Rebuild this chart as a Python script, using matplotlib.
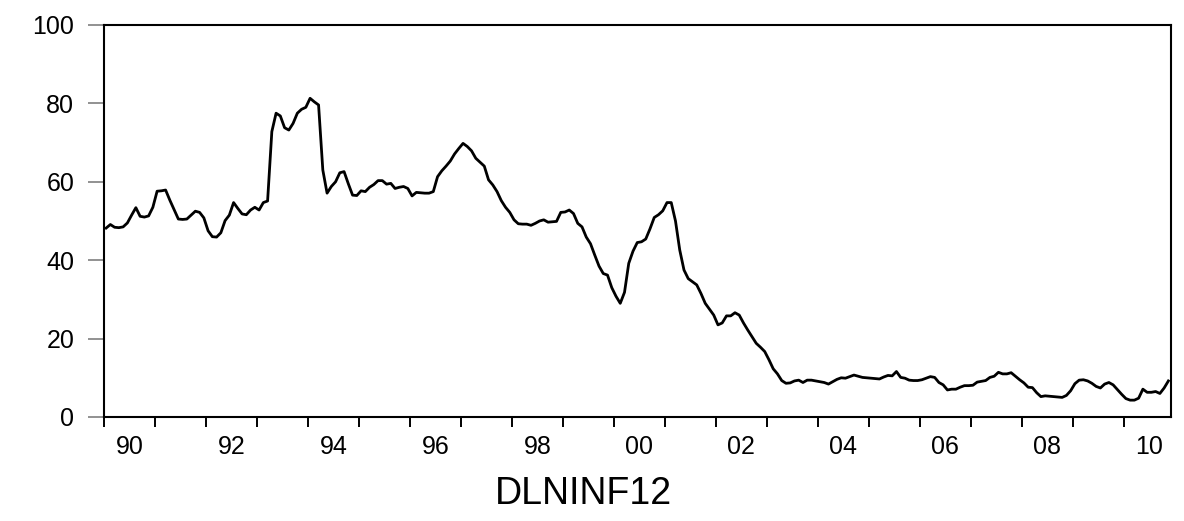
import matplotlib
matplotlib.use("Agg")
import matplotlib.pyplot as plt
from matplotlib.ticker import FixedLocator, NullFormatter, FixedFormatter
import numpy as np

# Monthly series DLNINF12, 1990M01 - 2010M11
start_year = 1990
dlninf12 = [
    # 1990
    48.2, 49.1, 48.4, 48.3, 48.5, 49.5, 51.5, 53.4, 51.2, 51.0, 51.3, 53.5,
    # 1991
    57.6, 57.7, 57.9, 55.3, 52.9, 50.5, 50.4, 50.5, 51.5, 52.5, 52.2, 50.8,
    # 1992
    47.5, 46.0, 45.9, 47.0, 50.1, 51.5, 54.7, 53.2, 51.8, 51.6, 52.8, 53.5,
    # 1993
    52.8, 54.7, 55.1, 72.8, 77.5, 76.8, 73.8, 73.2, 74.9, 77.5, 78.5, 79.0,
    # 1994
    81.3, 80.4, 79.6, 63.0, 57.1, 58.8, 60.0, 62.3, 62.6, 59.5, 56.6, 56.5,
    # 1995
    57.7, 57.5, 58.6, 59.3, 60.3, 60.3, 59.4, 59.6, 58.3, 58.6, 58.8, 58.3,
    # 1996
    56.4, 57.3, 57.2, 57.1, 57.1, 57.5, 61.3, 62.8, 64.0, 65.3, 67.1, 68.5,
    # 1997
    69.8, 69.0, 67.9, 66.0, 65.0, 64.0, 60.5, 59.2, 57.5, 55.2, 53.5, 52.2,
    # 1998
    50.3, 49.3, 49.2, 49.2, 48.9, 49.4, 50.0, 50.3, 49.7, 49.8, 49.9, 52.2,
    # 1999
    52.3, 52.8, 51.9, 49.4, 48.5, 45.9, 44.2, 41.3, 38.5, 36.6, 36.2, 33.0,
    # 2000
    30.8, 29.0, 31.8, 39.2, 42.3, 44.5, 44.7, 45.4, 48.0, 50.9, 51.6, 52.6,
    # 2001
    54.7, 54.7, 50.0, 42.6, 37.5, 35.3, 34.5, 33.7, 31.5, 29.0, 27.5, 26.0,
    # 2002
    23.5, 24.0, 25.8, 25.8, 26.6, 26.0, 24.0, 22.2, 20.5, 18.8, 17.8, 16.7,
    # 2003
    14.6, 12.3, 11.0, 9.3, 8.6, 8.7, 9.2, 9.4, 8.8, 9.4, 9.4, 9.2,
    # 2004
    9.0, 8.8, 8.4, 9.0, 9.6, 10.0, 9.9, 10.3, 10.7, 10.4, 10.1, 10.0,
    # 2005
    9.9, 9.8, 9.7, 10.2, 10.6, 10.5, 11.6, 10.1, 9.9, 9.4, 9.3, 9.3,
    # 2006
    9.5, 9.9, 10.3, 10.1, 8.8, 8.2, 6.9, 7.1, 7.1, 7.6, 8.0, 8.0,
    # 2007
    8.1, 8.9, 9.1, 9.3, 10.1, 10.4, 11.4, 11.0, 11.0, 11.3, 10.4, 9.5,
    # 2008
    8.7, 7.6, 7.5, 6.2, 5.2, 5.4, 5.3, 5.2, 5.1, 5.0, 5.5, 6.7,
    # 2009
    8.5, 9.4, 9.5, 9.2, 8.6, 7.8, 7.4, 8.4, 8.8, 8.2, 7.0, 5.8,
    # 2010
    4.7, 4.3, 4.3, 4.8, 7.1, 6.3, 6.3, 6.5, 6.0, 7.4, 9.2,
]
year_ticks = list(range(1990, 2011))
year_labels = ["90", "92", "94", "96", "98", "00", "02", "04", "06", "08", "10"]
y_ticks = [0, 20, 40, 60, 80, 100]
series_name = "DLNINF12"

plt.rcParams["font.family"] = ["Liberation Sans", "DejaVu Sans"]

n = len(dlninf12)
t = start_year + (np.arange(n) + 0.5) / 12.0

fig = plt.figure(figsize=(11.84, 5.21), dpi=100)
ax = fig.add_axes([104 / 1184, 1 - 417 / 521, (1170.5 - 104) / 1184, (417 - 25) / 521])

ax.plot(t, dlninf12, color="black", linewidth=2.0, solid_joinstyle="round")

ax.set_xlim(start_year, start_year + n / 12.0)
ax.set_ylim(0, 100)

# year ticks as marks, labels centred in every second year
ax.xaxis.set_major_locator(FixedLocator(year_ticks))
ax.xaxis.set_major_formatter(NullFormatter())
ax.xaxis.set_minor_locator(FixedLocator([y + 0.5 for y in year_ticks[::2]]))
ax.xaxis.set_minor_formatter(FixedFormatter(year_labels))
ax.tick_params(axis="x", which="major", direction="out", length=7.5, width=1.4,
               color="black")
ax.tick_params(axis="x", which="minor", length=0, pad=13, labelsize=18)

ax.set_yticks(y_ticks)
ax.set_yticklabels([str(v) for v in y_ticks])
ax.tick_params(axis="y", direction="out", length=11.5, width=1.2, color="#7f7f7f",
               pad=10, labelsize=18)

for side in ["left", "bottom", "right", "top"]:
    ax.spines[side].set_linewidth(1.5)
    ax.spines[side].set_color("black")

fig.text(0.493, 1 - 494 / 521, series_name, ha="center", va="center", fontsize=27)

fig.savefig("out.png", dpi=100)
